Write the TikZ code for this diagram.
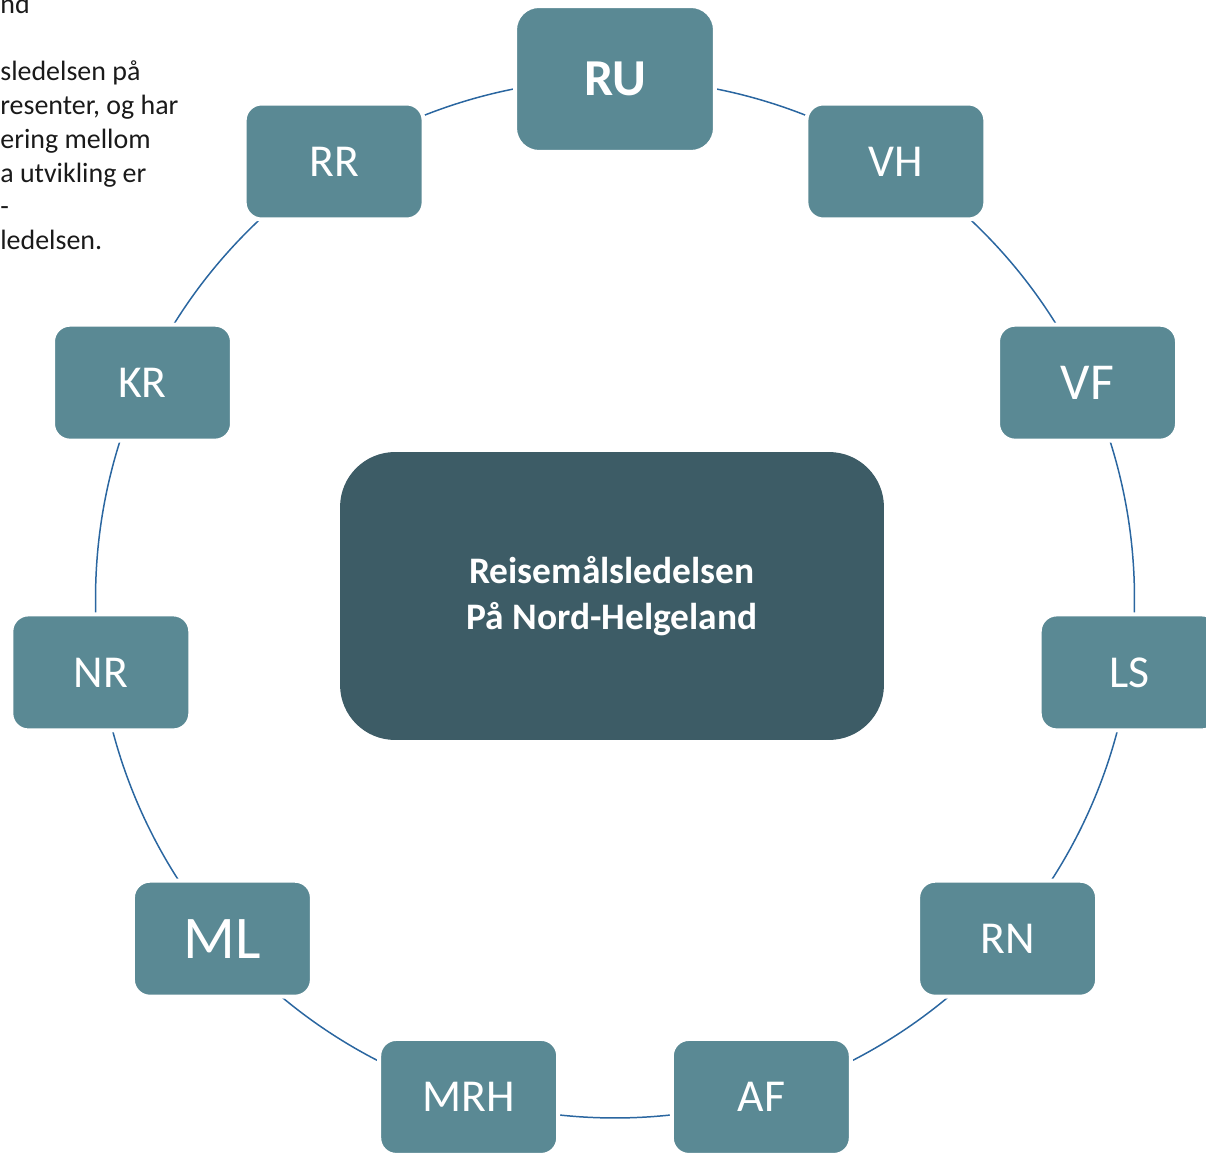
\documentclass[tikz,border=0pt]{standalone}
\usepackage{fontspec}
\setmainfont{Carlito}
\usepackage{xcolor}
\usetikzlibrary{positioning,backgrounds}
\definecolor{memberfill}{HTML}{5A8994}
\definecolor{corefill}{HTML}{3D5C66}
\definecolor{ringline}{HTML}{2A66A0}
\definecolor{prose}{HTML}{1A1A1A}

\begin{document}
\begin{tikzpicture}[x=0.02cm, y=0.02cm,
            member/.style = {rectangle, rounded corners=0.34cm, fill=memberfill, draw=white, line width=0.08cm, text=white, minimum width=3.58cm, minimum height=2.32cm, inner sep=0pt, font=\fontsize{26}{30}\selectfont},
            ring/.style = {draw=ringline, line width=0.85pt}]
    \useasboundingbox (0,0) rectangle (1206,1153);
    \node (core)[rectangle, rounded corners=1.1cm, fill=corefill, minimum width=10.88cm, minimum height=5.76cm, text=white, align=center, font=\bfseries\fontsize{21.3}{26}\selectfont] at (612,557) {Reisemålsledelsen\\På Nord-Helgeland};
    \begin{scope}[shift={(615,554.5)}]
        \node (ru)[member, minimum width=4cm, minimum height=2.92cm, rounded corners=0.48cm, font=\bfseries\fontsize{29.5}{34}\selectfont] at (90:519.5) {RU};
        \node (vh)[member] at (57.27:519.5) {VH};
        \node (vf)[member, font=\fontsize{29.5}{34}\selectfont] at (24.55:519.5) {VF};
        \node (ls)[member] at (-8.18:519.5) {LS};
        \node (rn)[member] at (-40.91:519.5) {RN};
        \node (af)[member] at (-73.64:519.5) {AF};
        \node (mrh)[member] at (-106.36:519.5) {MRH};
        \node (ml)[member, font=\fontsize{34.5}{40}\selectfont] at (-139.09:519.5) {ML};
        \node (nr)[member] at (-171.82:519.5) {NR};
        \node (kr)[member] at (155.45:519.5) {KR};
        \node (rr)[member] at (122.73:519.5) {RR};
    \end{scope}
    \begin{pgfonlayer}{background}
        \draw[ring] (ru.center) arc[start angle=90, end angle=57.27, radius=519.5];
        \draw[ring] (vh.center) arc[start angle=57.27, end angle=24.55, radius=519.5];
        \draw[ring] (vf.center) arc[start angle=24.55, end angle=-8.18, radius=519.5];
        \draw[ring] (ls.center) arc[start angle=-8.18, end angle=-40.91, radius=519.5];
        \draw[ring] (rn.center) arc[start angle=-40.91, end angle=-73.64, radius=519.5];
        \draw[ring] (af.center) arc[start angle=-73.64, end angle=-106.36, radius=519.5];
        \draw[ring] (mrh.center) arc[start angle=-106.36, end angle=-139.09, radius=519.5];
        \draw[ring] (ml.center) arc[start angle=-139.09, end angle=-171.82, radius=519.5];
        \draw[ring] (nr.center) arc[start angle=-171.82, end angle=-204.55, radius=519.5];
        \draw[ring] (kr.center) arc[start angle=155.45, end angle=122.73, radius=519.5];
        \draw[ring] (rr.center) arc[start angle=122.73, end angle=90, radius=519.5];
    \end{pgfonlayer}
    \node (prose)[anchor=base west, inner sep=0pt, align=left, text=prose, font=\fontsize{15.9}{19.2}\selectfont] at (0,903.5) {nd\\[19.2pt]sledelsen på\\resenter, og har\\ering mellom\\a utvikling er\\-\\ledelsen.};
\end{tikzpicture}
\end{document}
